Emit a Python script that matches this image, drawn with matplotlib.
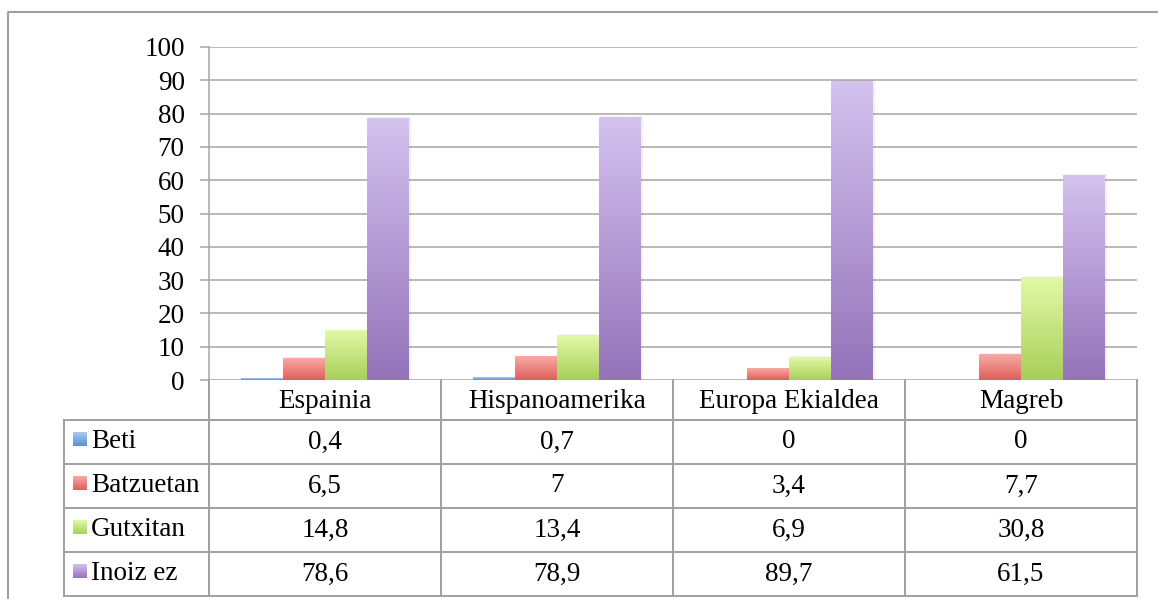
import numpy as np
import matplotlib.pyplot as plt
from matplotlib.colors import LinearSegmentedColormap
from matplotlib.patches import Rectangle

plt.rcParams['font.family'] = ['Liberation Serif', 'DejaVu Serif']

categories = ["Espainia", "Hispanoamerika", "Europa Ekialdea", "Magreb"]
series = ["Beti", "Batzuetan", "Gutxitan", "Inoiz ez"]
beti = [0.4, 0.7, 0, 0]
batzuetan = [6.5, 7, 3.4, 7.7]
gutxitan = [14.8, 13.4, 6.9, 30.8]
inoiz_ez = [78.6, 78.9, 89.7, 61.5]
labels = {
    "Beti": ["0,4", "0,7", "0", "0"],
    "Batzuetan": ["6,5", "7", "3,4", "7,7"],
    "Gutxitan": ["14,8", "13,4", "6,9", "30,8"],
    "Inoiz ez": ["78,6", "78,9", "89,7", "61,5"],
}
values = [beti, batzuetan, gutxitan, inoiz_ez]
# (top, bottom) gradient colours
grads = [("#aacaf2", "#5b8fd0"), ("#f9aaa6", "#de5f5a"),
         ("#e2f9a8", "#a8cf58"), ("#d4c2ef", "#9473b9")]

W, H = 1158, 599
fig = plt.figure(figsize=(W / 100, H / 100), dpi=100)

left, right, top, bottom = 209, 1137, 47, 380
ax = fig.add_axes([left / W, 1 - bottom / H, (right - left) / W, (bottom - top) / H])
grid_c = "#a6a6a6"
fs = 19.5

x = np.arange(len(categories))
bw = 0.181
ax.set_xlim(-0.5, len(categories) - 0.5)
ax.set_ylim(0, 100)
ax.set_yticks(range(0, 101, 10))
ax.yaxis.grid(True, color=grid_c, linewidth=1.1)
ax.set_axisbelow(True)
ax.set_xticks([])
for s in ["top", "right", "bottom"]:
    ax.spines[s].set_visible(False)
ax.spines["left"].set_color(grid_c)
ax.spines["left"].set_linewidth(1.1)
ax.tick_params(axis="y", length=6.5, width=1.1, color=grid_c, labelsize=fs, pad=11)

grad_img = np.linspace(0, 1, 256).reshape(-1, 1)
for i, (vals, (ctop, cbot)) in enumerate(zip(values, grads)):
    cmap = LinearSegmentedColormap.from_list(f"g{i}", [ctop, cbot])
    bars = ax.bar(x + (i - 1.5) * bw, vals, bw, color="none", edgecolor="none", zorder=3)
    for b in bars:
        if b.get_height() <= 0:
            continue
        bx, by, bwid, bh = b.get_x(), b.get_y(), b.get_width(), b.get_height()
        # soft shadow
        ax.add_patch(Rectangle((bx + 0.01, by), bwid, bh + 0.3, facecolor="#000000",
                               alpha=0.06, edgecolor="none", zorder=2))
        im = ax.imshow(grad_img, cmap=cmap, aspect="auto", extent=[bx, bx + bwid, by, by + max(bh, 0.6)],
                       zorder=3, interpolation="bilinear")
ax.set_xlim(-0.5, len(categories) - 0.5)
ax.set_ylim(0, 100)

# overlay in pixel coordinates for table and frame
ov = fig.add_axes([0, 0, 1, 1], zorder=5)
ov.axis("off")
ov.patch.set_alpha(0)

# outer frame
ov.plot([8, 8, W + 5], [H + 5, 12, 12], color="#a0a0a0", lw=1.5)

tab_left = 64
col_w = (right - left) / len(categories)
header_bot = 420
row_h = (596 - header_bot) / len(series)
lc = "#a0a0a0"
lw = 1.4
# header row
ov.plot([left, right], [header_bot, header_bot], color=lc, lw=lw)
for j in range(len(categories) + 1):
    xx = left + j * col_w
    ov.plot([xx, xx], [bottom, 596], color=lc, lw=lw)
for j, c in enumerate(categories):
    ov.text(left + (j + 0.5) * col_w, (bottom + header_bot) / 2 + 1, c, ha="center", va="center", fontsize=fs)
ov.plot([tab_left, tab_left], [header_bot, 596], color=lc, lw=lw)
for r in range(len(series) + 1):
    yy = header_bot + r * row_h
    ov.plot([tab_left, right], [yy, yy], color=lc, lw=lw)
for r, (s, (ctop, cbot)) in enumerate(zip(series, grads)):
    yc = header_bot + (r + 0.5) * row_h
    cmap = LinearSegmentedColormap.from_list(f"l{r}", [ctop, cbot])
    ov.imshow(grad_img, cmap=cmap, aspect="auto", extent=[73, 87, yc + 4, yc - 10],
              zorder=6, interpolation="bilinear")
    ov.text(91, yc, s, ha="left", va="center", fontsize=fs)
    for j, lab in enumerate(labels[s]):
        ov.text(left + (j + 0.5) * col_w, yc, lab, ha="center", va="center", fontsize=fs)
ov.set_xlim(0, W)
ov.set_ylim(H, 0)

fig.savefig("out.png", dpi=100)
